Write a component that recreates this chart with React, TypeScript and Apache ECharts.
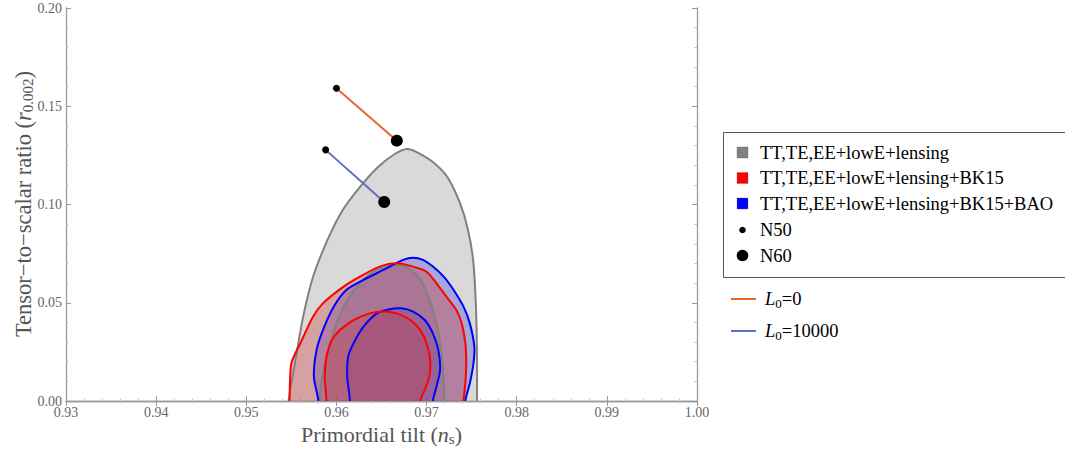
import React, { useEffect, useRef } from "react";
import * as echarts from "echarts";

const xTicks = [0.93, 0.94, 0.95, 0.96, 0.97, 0.98, 0.99, 1.0];
const yTicks = [0.0, 0.05, 0.1, 0.15, 0.2];

const grayOuter = [
  [0.9547, 0], [0.9554, 0.0193], [0.9563, 0.0427], [0.9574, 0.0631], [0.959, 0.0819],
  [0.9607, 0.0972], [0.9626, 0.1089], [0.9645, 0.1186], [0.9663, 0.1252], [0.9678, 0.1282],
  [0.9689, 0.1267], [0.9707, 0.1216], [0.9723, 0.114], [0.9737, 0.1008], [0.9746, 0.087],
  [0.9752, 0.0702], [0.9755, 0.0448], [0.9756, 0.0193], [0.9756, 0],
];
const grayInner = [
  [0.9581, 0], [0.9585, 0.0141], [0.9595, 0.0327], [0.9608, 0.048], [0.9626, 0.0599],
  [0.9645, 0.0667], [0.9663, 0.0692], [0.9678, 0.068], [0.9691, 0.0633], [0.9702, 0.0531],
  [0.9711, 0.0395], [0.9717, 0.0225], [0.972, 0],
];
const redOuter = [
  [0.9548, 0], [0.955, 0.0192], [0.956, 0.0294], [0.9574, 0.0429], [0.9585, 0.0497],
  [0.9608, 0.0582], [0.9626, 0.0633], [0.9648, 0.0684], [0.9667, 0.0701], [0.9685, 0.0684],
  [0.97, 0.0658], [0.9711, 0.0599], [0.9722, 0.0531], [0.9733, 0.0463], [0.9739, 0.0395],
  [0.9743, 0.0294], [0.9744, 0.0192], [0.9743, 0.009], [0.9741, 0],
];
const redInner = [
  [0.9589, 0], [0.9587, 0.0124], [0.9589, 0.0225], [0.9595, 0.031], [0.9604, 0.0361],
  [0.9619, 0.0412], [0.9637, 0.0446], [0.9652, 0.0455], [0.9667, 0.0446], [0.9682, 0.0412],
  [0.9693, 0.0361], [0.97, 0.0294], [0.9704, 0.0209], [0.9703, 0.0124], [0.9698, 0.0056],
  [0.9693, 0],
];
const blueOuter = [
  [0.958, 0], [0.9575, 0.0124], [0.9578, 0.026], [0.9585, 0.0361], [0.9597, 0.048],
  [0.9611, 0.0565], [0.963, 0.0616], [0.9652, 0.0667], [0.9674, 0.0718], [0.9685, 0.0729],
  [0.9696, 0.0718], [0.9707, 0.0684], [0.9719, 0.0633], [0.973, 0.0565], [0.9741, 0.048],
  [0.9748, 0.0395], [0.9753, 0.0276], [0.9752, 0.0192], [0.9748, 0.009], [0.9743, 0],
];
const blueInner = [
  [0.9615, 0], [0.9612, 0.0124], [0.9613, 0.0225], [0.9619, 0.0294], [0.963, 0.0378],
  [0.9645, 0.0446], [0.9659, 0.0467], [0.9672, 0.0472], [0.9685, 0.0455], [0.9698, 0.0412],
  [0.9707, 0.0344], [0.9713, 0.026], [0.9715, 0.0158], [0.9711, 0.0073], [0.9707, 0],
];

// model predictions: [N50, N60]
const lineL0 = [[0.96, 0.1592], [0.9667, 0.1325]];
const lineL10000 = [[0.9588, 0.1278], [0.9653, 0.1013]];

const legendContours = [
  { label: "TT,TE,EE+lowE+lensing", color: "#808080" },
  { label: "TT,TE,EE+lowE+lensing+BK15", color: "#ff0000" },
  { label: "TT,TE,EE+lowE+lensing+BK15+BAO", color: "#0000ff" },
];

const SERIF = "Liberation Serif";

// extend the contour below the x axis (clipped) so smoothing keeps vertical ends
function extended(pts: number[][]) {
  const first = pts[0];
  const last = pts[pts.length - 1];
  return [[first[0], -0.012], ...pts, [last[0], -0.012]];
}

function fillSeries(pts: number[][], fill: string, z: number) {
  const ext = extended(pts);
  return {
    type: "custom",
    coordinateSystem: "cartesian2d",
    data: [pts[0]],
    z,
    silent: true,
    clip: true,
    renderItem: (_p: any, api: any) => ({
      type: "polygon",
      shape: { points: ext.map((p) => api.coord(p)), smooth: 0.25 },
      style: { fill, stroke: "none" },
    }),
  };
}
function strokeSeries(pts: number[][], stroke: string, z: number) {
  const ext = extended(pts);
  return {
    type: "custom",
    coordinateSystem: "cartesian2d",
    data: [pts[0]],
    z,
    silent: true,
    clip: true,
    renderItem: (_p: any, api: any) => ({
      type: "polyline",
      shape: { points: ext.map((p) => api.coord(p)), smooth: 0.25 },
      style: { fill: "none", stroke, lineWidth: 2 },
    }),
  };
}

export default function App() {
  const ref = useRef<HTMLDivElement>(null);
  useEffect(() => {
    if (!ref.current) return;
    const chart = echarts.init(ref.current, undefined, { renderer: "svg" });
    const axisCommon = {
      axisLine: { show: true, lineStyle: { color: "#9a9a9a", width: 1.3 } },
      axisTick: { show: true, inside: true, length: 5, lineStyle: { color: "#9a9a9a" } },
      minorTick: { show: true, splitNumber: 5, length: 2.5, lineStyle: { color: "#c0c0c0" } },
      splitLine: { show: false },
    };
    const legRich = {
      t: { fontFamily: SERIF, fontSize: 18.5, fill: "#000" },
      i: { fontFamily: SERIF, fontSize: 18.5, fontStyle: "italic", fill: "#000" },
      s: { fontFamily: SERIF, fontSize: 13, fill: "#000", padding: [8, 0, 0, 0] },
    };
    const textStyle = (t: string) => ({
      text: `{t|${t}}`,
      rich: legRich,
      verticalAlign: "middle",
    });
    const legendGraphics: any[] = [
      {
        type: "rect",
        shape: { x: 723.5, y: 132.5, width: 360, height: 145 },
        style: { fill: "#fff", stroke: "#555", lineWidth: 1 },
      },
    ];
    legendContours.forEach((l, i) => {
      const cy = 152.5 + i * 25.5;
      legendGraphics.push({
        type: "rect",
        shape: { x: 737, y: cy - 5.5, width: 11, height: 11 },
        style: { fill: l.color, stroke: "#555", lineWidth: 0.3 },
      });
      legendGraphics.push({ type: "text", x: 760, y: cy, style: textStyle(l.label) });
    });
    legendGraphics.push(
      { type: "circle", shape: { cx: 742.5, cy: 230, r: 3.3 }, style: { fill: "#000" } },
      { type: "text", x: 760, y: 230, style: textStyle("N50") },
      { type: "circle", shape: { cx: 742.5, cy: 255.5, r: 5.8 }, style: { fill: "#000" } },
      { type: "text", x: 760, y: 255.5, style: textStyle("N60") },
      { type: "line", shape: { x1: 731, y1: 299, x2: 756, y2: 299 }, style: { stroke: "#e8682a", lineWidth: 2 } },
      { type: "line", shape: { x1: 731, y1: 331, x2: 756, y2: 331 }, style: { stroke: "#5b6fc7", lineWidth: 2 } },
      { type: "text", x: 765, y: 299, style: { text: "{i|L}{s|0}{t|=0}", rich: legRich, verticalAlign: "middle" } },
      { type: "text", x: 765, y: 331, style: { text: "{i|L}{s|0}{t|=10000}", rich: legRich, verticalAlign: "middle" } },
    );
    // y axis title
    legendGraphics.push({
      type: "text",
      x: 23,
      y: 204,
      rotation: Math.PI / 2,
      style: {
        text: "{n|Tensor−to−scalar ratio (}{i|r}{s|0.002}{n|)}",
        align: "center",
        verticalAlign: "middle",
        rich: {
          n: { fontFamily: SERIF, fontSize: 22.5, fill: "#555" },
          i: { fontFamily: SERIF, fontSize: 22.5, fontStyle: "italic", fill: "#555" },
          s: { fontFamily: SERIF, fontSize: 15, fill: "#555", padding: [9, 0, 0, 0] },
        },
      },
    });

    const tickLabel = {
      color: "#666",
      fontSize: 14,
      margin: 4,
      formatter: (v: number) => `{t|${v.toFixed(2)}}`,
      rich: { t: { fontFamily: SERIF, fontSize: 14, color: "#666" } },
    };

    chart.setOption({
      animation: false,
      textStyle: { fontFamily: SERIF },
      grid: { left: 66, right: 368, top: 8, bottom: 54, containLabel: false },
      xAxis: [
        {
          type: "value",
          min: xTicks[0],
          max: xTicks[xTicks.length - 1],
          interval: 0.01,
          position: "bottom",
          ...axisCommon,
          axisLabel: tickLabel,
          name: "{n|Primordial tilt (}{i|n}{s|s}{n|)}",
          nameLocation: "middle",
          nameGap: 18,
          nameTextStyle: {
            rich: {
              n: { fontFamily: SERIF, fontSize: 22, color: "#555" },
              i: { fontFamily: SERIF, fontSize: 22, fontStyle: "italic", color: "#555" },
              s: { fontFamily: SERIF, fontSize: 15, color: "#555", padding: [9, 0, 0, 0] },
            },
          },
        },
        {
          type: "value",
          min: xTicks[0],
          max: xTicks[xTicks.length - 1],
          interval: 0.01,
          position: "top",
          ...axisCommon,
          axisLabel: { show: false },
        },
      ],
      yAxis: [
        {
          type: "value",
          min: yTicks[0],
          max: yTicks[yTicks.length - 1],
          interval: 0.05,
          position: "left",
          ...axisCommon,
          axisLabel: tickLabel,
        },
        {
          type: "value",
          min: yTicks[0],
          max: yTicks[yTicks.length - 1],
          interval: 0.05,
          position: "right",
          ...axisCommon,
          axisLabel: { show: false },
        },
      ],
      graphic: legendGraphics,
      series: [
        fillSeries(grayOuter, "rgba(128,128,128,0.3)", 1),
        fillSeries(grayInner, "rgba(128,128,128,0.25)", 2),
        fillSeries(blueOuter, "rgba(75,75,211,0.36)", 3),
        fillSeries(blueInner, "rgba(75,75,211,0.36)", 4),
        fillSeries(redOuter, "rgba(206,61,61,0.36)", 5),
        fillSeries(redInner, "rgba(206,61,61,0.3)", 6),
        strokeSeries(grayOuter, "#808080", 7),
        strokeSeries(grayInner, "#808080", 7),
        strokeSeries(blueOuter, "#0000ff", 8),
        strokeSeries(blueInner, "#0000ff", 8),
        strokeSeries(redOuter, "#ff0000", 9),
        strokeSeries(redInner, "#ff0000", 9),
        {
          type: "line",
          data: lineL0,
          symbol: "none",
          lineStyle: { color: "#e8682a", width: 2 },
          z: 10,
        },
        {
          type: "line",
          data: lineL10000,
          symbol: "none",
          lineStyle: { color: "#5b6fc7", width: 2 },
          z: 10,
        },
        {
          type: "scatter",
          data: [lineL0[0], lineL10000[0]],
          symbolSize: 7,
          itemStyle: { color: "#000", opacity: 1 },
          z: 11,
        },
        {
          type: "scatter",
          data: [lineL0[1], lineL10000[1]],
          symbolSize: 12,
          itemStyle: { color: "#000", opacity: 1 },
          z: 11,
        },
      ],
    });
    return () => chart.dispose();
  }, []);
  return (
    <div
      ref={ref}
      style={{ position: "absolute", left: 0, top: 0, width: 1065, height: 455, background: "#fff" }}
    />
  );
}
